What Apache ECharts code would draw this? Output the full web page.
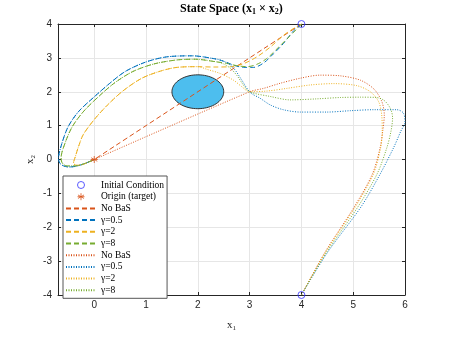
<!DOCTYPE html>
<html>
<head>
<meta charset="utf-8">
<script src="https://cdn.jsdelivr.net/npm/echarts@6/dist/echarts.min.js"></script>
<style>
  html, body { margin: 0; padding: 0; background: #fff; }
  #main { width: 449px; height: 337px; }
</style>
</head>
<body>
<div id="main"></div>
<script>
// axis ranges
var xRange = [-0.7, 6];
var yRange = [-4, 4];

// markers
var initialPoints = [[4, 4], [4, -4]];
var originPoint = [[0, 0]];
var obstacle = [[2, 2, 0.5]]; // centre x, centre y, radius

// dashed trajectories, start (4,4)
var noBasDash = [[4, 4], [0, 0]];
var blueDashHead = [[4, 4], [3.85, 3.8], [3.65, 3.42], [3.46, 3.12], [3.27, 2.85], [3.08, 2.72], [2.88, 2.72], [2.7, 2.78], [2.5, 2.9]];
var yellowDashHead = [[4, 4], [3.88, 3.9], [3.65, 3.66], [3.4, 3.32], [3.14, 3.03], [2.9, 2.84], [2.65, 2.74], [2.3, 2.73]];
var greenDashHead = [[4, 4], [3.91, 3.85], [3.72, 3.56], [3.53, 3.27], [3.33, 2.98], [3.14, 2.81], [2.95, 2.74], [2.75, 2.77], [2.55, 2.84]];

// common arcs round the obstacle to the origin
var blueArc = [[2.3, 2.98], [1.9, 3.06], [1.4, 3.03], [1.0, 2.88], [0.6, 2.6], [0.3, 2.25], [0, 1.85], [-0.3, 1.42], [-0.5, 0.98], [-0.62, 0.5], [-0.69, 0.02], [-0.66, -0.12], [-0.59, -0.19], [-0.5, -0.22], [-0.35, -0.2], [-0.17, -0.11], [0, 0]];
var yellowArc = [[2.0, 2.74], [1.6, 2.72], [1.3, 2.62], [0.92, 2.4], [0.55, 2.02], [0.25, 1.6], [0, 1.18], [-0.21, 0.74], [-0.3, 0.4], [-0.37, 0.06], [-0.4, -0.1], [-0.35, -0.17], [-0.25, -0.16], [-0.12, -0.08], [0, 0]];
var greenArc = [[2.37, 2.88], [1.95, 2.96], [1.6, 2.94], [1.15, 2.82], [0.75, 2.6], [0.4, 2.27], [0.1, 1.88], [-0.2, 1.43], [-0.42, 0.98], [-0.56, 0.5], [-0.64, 0.05], [-0.62, -0.1], [-0.53, -0.19], [-0.37, -0.19], [-0.17, -0.11], [0, 0]];

// dotted trajectories, start (4,-4)
var noBasDot = [[4, -4], [4.45, -2.75], [5.02, -1.4], [5.37, -0.43], [5.52, 0.35], [5.57, 0.84], [5.6, 1.32], [5.55, 1.72], [5.4, 2.08], [5.14, 2.34], [4.75, 2.47], [4.36, 2.49], [3.98, 2.4], [3.59, 2.25], [3.27, 2.1], [3.0, 2.0], [0, 0]];
var blueDotHead = [[4, -4], [4.5, -2.75], [5.15, -1.4], [5.52, -0.43], [5.78, 0.35], [5.92, 0.84], [6.0, 1.1], [5.97, 1.37], [5.84, 1.47], [5.4, 1.47], [4.94, 1.44], [4.49, 1.4], [3.98, 1.4], [3.65, 1.47], [3.4, 1.61], [3.2, 1.81], [3.01, 1.98], [2.85, 2.34], [2.72, 2.64], [2.6, 2.82], [2.45, 2.93]];
var yellowDotHead = [[4, -4], [4.46, -2.75], [5.04, -1.4], [5.39, -0.43], [5.53, 0.35], [5.56, 0.84], [5.55, 1.32], [5.49, 1.71], [5.33, 2.0], [5.07, 2.18], [4.62, 2.24], [4.17, 2.2], [3.72, 2.1], [3.33, 2.02], [3.0, 2.0], [2.84, 2.16], [2.69, 2.34], [2.43, 2.54], [2.18, 2.66]];
var greenDotHead = [[4, -4], [4.48, -2.75], [5.09, -1.4], [5.46, -0.43], [5.65, 0.35], [5.73, 0.84], [5.76, 1.23], [5.72, 1.5], [5.6, 1.74], [5.45, 1.83], [5.14, 1.84], [4.75, 1.83], [4.3, 1.79], [3.78, 1.76], [3.4, 1.86], [3.0, 2.0], [2.88, 2.2], [2.75, 2.49], [2.63, 2.69], [2.5, 2.82]];

var legendNames = ['Initial Condition', 'Origin (target)', 'No BaS', 'γ=0.5', 'γ=2', 'γ=8',
                   'No BaS ', 'γ=0.5 ', 'γ=2 ', 'γ=8 '];

var cOrange = '#D95319', cBlue = '#0072BD', cYellow = '#EDB120', cGreen = '#77AC30';
var cMarker = '#3333ff';
var axisColor = '#262626';
var dash = [5, 3], dot = [1, 1.5];
var asterisk = 'path://M5,0L5,10M0.67,2.5L9.33,7.5M0.67,7.5L9.33,2.5M0,5L10,5';

function traj(name, data, color, type) {
    return {
        name: name,
        type: 'line',
        data: data,
        symbol: 'none',
        smooth: 0.3,
        lineStyle: { color: color, width: 1, type: type },
        itemStyle: { color: color },
        z: 3
    };
}

var serif = 'Liberation Serif';
var sans = 'Liberation Sans';
var subRich = {
    b: { fontFamily: serif, fontWeight: 'bold', fontSize: 12, color: '#000' },
    s: { fontFamily: serif, fontWeight: 'bold', fontSize: 8, color: '#000', padding: [6, 0, 0, 0] }
};
var labRich = {
    i: { fontFamily: serif, fontSize: 11, color: axisColor },
    s: { fontFamily: serif, fontSize: 7, color: axisColor, padding: [6, 0, 0, 0] }
};

// legend: marker items keep thin outlines, line items show the line only
var legendData = legendNames.map(function (n, i) {
    if (i === 0) return { name: n, icon: 'circle', itemStyle: { color: 'rgba(255,255,255,0)', borderColor: cMarker, borderWidth: 1 } };
    if (i === 1) return { name: n, icon: asterisk, itemStyle: { color: 'rgba(255,255,255,0)', borderColor: cOrange, borderWidth: 1 } };
    return { name: n, itemStyle: { opacity: 0 } };
});

var chart = echarts.init(document.getElementById('main'));

var option = {
    animation: false,
    backgroundColor: '#fff',
    title: {
        text: '{b|State Space (x}{s|1}{b| × x}{s|2}{b|)}',
        left: 180,
        top: 0,
        padding: [2, 0, 0, 0],
        textStyle: { rich: subRich }
    },
    grid: { left: 58, top: 24, width: 347, height: 274, containLabel: false },
    legend: {
        orient: 'vertical',
        left: 63,
        top: 176,
        padding: [4, 3, 3, 2],
        itemWidth: 30,
        itemHeight: 7,
        itemGap: 1.7,
        symbolKeepAspect: true,
        backgroundColor: '#fff',
        borderColor: '#555',
        borderWidth: 1,
        textStyle: { fontFamily: serif, fontSize: 9.5, color: '#000' },
        formatter: function (n) { return n.trim(); },
        data: legendData
    },
    xAxis: [{
        type: 'value', min: xRange[0], max: xRange[1], minInterval: 1, maxInterval: 1,
        name: '{i|x}{s|1}', nameLocation: 'middle', nameGap: 24, nameMoveOverlap: false,
        nameTextStyle: { rich: labRich },
        axisLine: { onZero: false, lineStyle: { color: axisColor } },
        axisTick: { inside: true, length: 3, lineStyle: { color: axisColor } },
        axisLabel: {
            color: axisColor, fontFamily: sans, fontSize: 10, margin: 5,
            formatter: function (v) { return Number.isInteger(v) ? String(v) : ''; }
        },
        splitLine: { lineStyle: { color: '#e6e6e6' } }
    }, {
        type: 'value', position: 'top', min: xRange[0], max: xRange[1], minInterval: 1, maxInterval: 1,
        axisLine: { onZero: false, lineStyle: { color: axisColor } },
        axisTick: { inside: true, length: 3, lineStyle: { color: axisColor } },
        axisLabel: { show: false },
        splitLine: { show: false }
    }],
    yAxis: [{
        type: 'value', min: yRange[0], max: yRange[1], interval: 1,
        name: '{i|x}{s|2}', nameLocation: 'middle', nameGap: 21, nameMoveOverlap: false,
        nameTextStyle: { rich: labRich },
        axisLine: { show: true, onZero: false, lineStyle: { color: axisColor } },
        axisTick: { show: true, inside: true, length: 3, lineStyle: { color: axisColor } },
        axisLabel: { color: axisColor, fontFamily: sans, fontSize: 10, margin: 6 },
        splitLine: { lineStyle: { color: '#e6e6e6' } }
    }, {
        type: 'value', position: 'right', min: yRange[0], max: yRange[1], interval: 1,
        axisLine: { show: true, onZero: false, lineStyle: { color: axisColor } },
        axisTick: { show: true, inside: true, length: 3, lineStyle: { color: axisColor } },
        axisLabel: { show: false },
        splitLine: { show: false }
    }],
    series: [
        {
            type: 'custom',
            data: obstacle,
            encode: { x: 0, y: 1 },
            z: 1,
            renderItem: function (params, api) {
                var cx = api.value(0), cy = api.value(1), r = api.value(2);
                var pts = [];
                for (var k = 0; k <= 72; k++) {
                    var t = k / 72 * 2 * Math.PI;
                    pts.push(api.coord([cx + r * Math.cos(t), cy + r * Math.sin(t)]));
                }
                return {
                    type: 'polygon',
                    shape: { points: pts },
                    style: { fill: '#4DBEEE', stroke: '#333', lineWidth: 1 }
                };
            }
        },
        {
            name: 'Initial Condition', type: 'scatter', data: initialPoints,
            symbol: 'circle', symbolSize: 7, clip: false, z: 5,
            itemStyle: { color: 'rgba(255,255,255,0)', borderColor: cMarker, borderWidth: 1 }
        },
        {
            name: 'Origin (target)', type: 'scatter', data: originPoint,
            symbol: asterisk, symbolSize: 7, clip: false, z: 5,
            itemStyle: { color: 'rgba(255,255,255,0)', borderColor: cOrange, borderWidth: 1 }
        },
        traj('No BaS', noBasDash, cOrange, dash),
        traj('γ=0.5', blueDashHead.concat(blueArc), cBlue, dash),
        traj('γ=2', yellowDashHead.concat(yellowArc), cYellow, dash),
        traj('γ=8', greenDashHead.concat(greenArc), cGreen, dash),
        traj('No BaS ', noBasDot, cOrange, dot),
        traj('γ=0.5 ', blueDotHead.concat(blueArc), cBlue, dot),
        traj('γ=2 ', yellowDotHead.concat(yellowArc), cYellow, dot),
        traj('γ=8 ', greenDotHead.concat(greenArc), cGreen, dot)
    ]
};

chart.setOption(option);
</script>
</body>
</html>
